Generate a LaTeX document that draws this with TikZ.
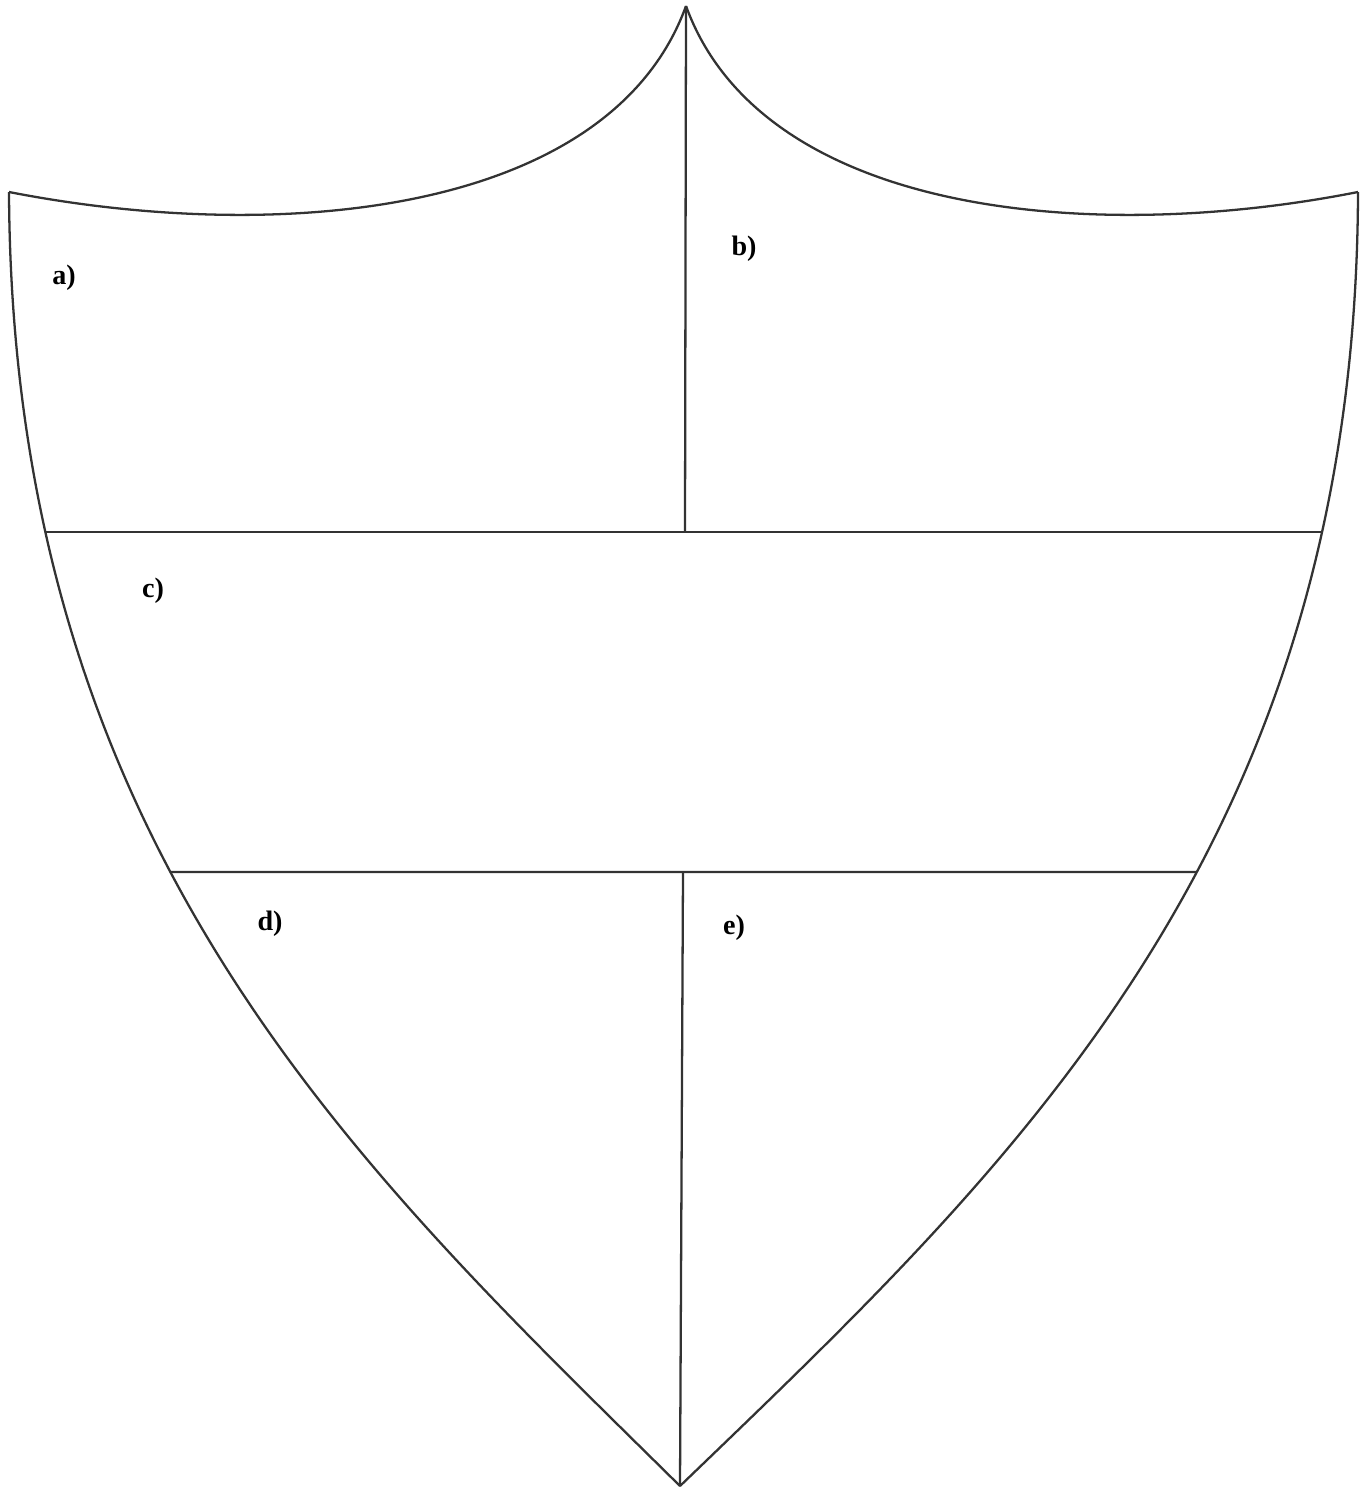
\documentclass[tikz,border=0pt]{standalone}
\usepackage{fontspec}
\setmainfont{Liberation Serif}
\usetikzlibrary{intersections}

\begin{document}
\begin{tikzpicture}
  [x=0.02cm,y=-0.02cm,line join=round,
   every node/.style={font=\bfseries\fontsize{16}{18}\selectfont,inner sep=0pt},
   rim/.style={draw=black!80,line width=1.3pt}]
  \useasboundingbox (0,0) rectangle (1365,1488);
  \coordinate (top) at (686,6);
  \coordinate (tl)  at (9,192);
  \coordinate (tr)  at (1358,192);
  \coordinate (bot) at (680,1486);

  % outline of the shield
  \path[rim] (tl) .. controls (280,245) and (610,215) .. (top);
  \path[rim] (top) .. controls (762,215) and (1090,245) .. (tr);
  \path[rim,name path=lside] (tl) .. controls (12,850) and (360,1170) .. (bot);
  \path[rim,name path=rside] (tr) .. controls (1356,850) and (1008,1170) .. (bot);

  % bands
  \path[name path=hup] (0,532) -- (1365,532);
  \path[name path=hlow] (0,872) -- (1365,872);
  \path[name intersections={of=lside and hup,by=ul}];
  \path[name intersections={of=rside and hup,by=ur}];
  \path[name intersections={of=lside and hlow,by=ll}];
  \path[name intersections={of=rside and hlow,by=lr}];
  \coordinate (mup) at (685,532);
  \coordinate (mlow) at (683,872);

  \draw[rim] (ul) -- (ur);
  \draw[rim] (ll) -- (lr);
  \draw[rim] (top) -- (mup);
  \draw[rim] (mlow) -- (bot);

  \node (la) at (64,278)  {a)};
  \node (lb) at (744,249) {b)};
  \node (lc) at (153,591) {c)};
  \node (ld) at (270,924) {d)};
  \node (le) at (734,928) {e)};
\end{tikzpicture}
\end{document}
